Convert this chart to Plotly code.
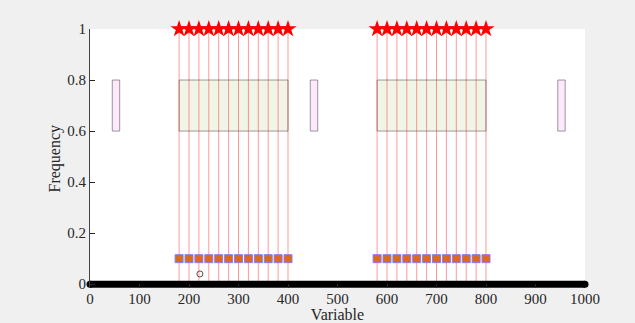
import plotly.graph_objects as go

# Data
star_x = [180, 200, 220, 240, 260, 280, 300, 320, 340, 360, 380, 400,
          580, 600, 620, 640, 660, 680, 700, 720, 740, 760, 780, 800]
star_y = [1.0] * len(star_x)
square_y = [0.1] * len(star_x)
circle_x = [222]
circle_y = [0.04]
green_boxes = [(180, 400, 0.6, 0.8), (580, 800, 0.6, 0.8)]
pink_boxes = [(45, 60, 0.6, 0.8), (445, 460, 0.6, 0.8), (945, 960, 0.6, 0.8)]
base_x = [0, 1000]
base_y = [0, 0]
x_ticks = [0, 100, 200, 300, 400, 500, 600, 700, 800, 900, 1000]
y_ticks = [0, 0.2, 0.4, 0.6, 0.8, 1]
y_ticklabels = ["0", "0.2", "0.4", "0.6", "0.8", "1"]

fig = go.Figure()

shapes = []
for x0, x1, y0, y1 in green_boxes:
    shapes.append(dict(type="rect", x0=x0, x1=x1, y0=y0, y1=y1, xref="x", yref="y",
                       fillcolor="#f0f5e8", line=dict(color="rgba(90,90,90,0.6)", width=1),
                       layer="below"))
for x0, x1, y0, y1 in pink_boxes:
    shapes.append(dict(type="rect", x0=x0, x1=x1, y0=y0, y1=y1, xref="x", yref="y",
                       fillcolor="#fde8fc", line=dict(color="rgba(90,90,90,0.6)", width=1),
                       layer="below"))

# red vertical lines
lx, ly = [], []
for x in star_x:
    lx += [x, x, None]
    ly += [0, 1, None]
fig.add_trace(go.Scatter(x=lx, y=ly, mode="lines",
                         line=dict(color="rgba(255,0,0,0.4)", width=1),
                         hoverinfo="skip", showlegend=False))

# thick base line
fig.add_trace(go.Scatter(x=base_x, y=base_y, mode="lines+markers",
                         line=dict(color="black", width=7),
                         marker=dict(color="black", size=7),
                         showlegend=False, cliponaxis=False))

# squares
fig.add_trace(go.Scatter(x=star_x, y=square_y, mode="markers",
                         marker=dict(symbol="square", size=8, color="#d96a1e",
                                     line=dict(color="#8a7cf0", width=1)),
                         showlegend=False))

# circle
fig.add_trace(go.Scatter(x=circle_x, y=circle_y, mode="markers",
                         marker=dict(symbol="circle-open", size=6, color="#555555",
                                     line=dict(width=1)),
                         showlegend=False))

# stars
fig.add_trace(go.Scatter(x=star_x, y=star_y, mode="markers",
                         marker=dict(symbol="star", size=13, color="red",
                                     line=dict(width=0)),
                         showlegend=False, cliponaxis=False))

font_family = "Liberation Serif, DejaVu Serif, serif"
fig.update_layout(
    width=635, height=323,
    margin=dict(l=90, r=50, t=29, b=35),
    paper_bgcolor="#f0f0f0",
    plot_bgcolor="white",
    font=dict(family=font_family, size=15, color="#262626"),
    shapes=shapes,
    annotations=[dict(text="Frequency", textangle=-90, xref="paper", yref="paper",
                      x=0, y=0.5, xshift=-36, xanchor="center", yanchor="middle",
                      showarrow=False, font=dict(size=16))],
    xaxis=dict(range=[0, 1000], tickvals=x_ticks, ticktext=[str(v) for v in x_ticks],
               ticks="inside", ticklen=4, tickcolor="#262626",
               showgrid=False, zeroline=False, showline=False,
               automargin=False, ticklabelstandoff=0,
               title=dict(text="Variable", font=dict(size=16), standoff=0),
               tickfont=dict(size=15)),
    yaxis=dict(range=[-0.015, 1], tickvals=y_ticks, ticktext=y_ticklabels,
               ticks="inside", ticklen=5, tickcolor="#262626",
               showgrid=False, zeroline=False, showline=True, linecolor="#444444",
               linewidth=1, automargin=False,
               tickfont=dict(size=15)),
)

fig.write_html("out.html")
